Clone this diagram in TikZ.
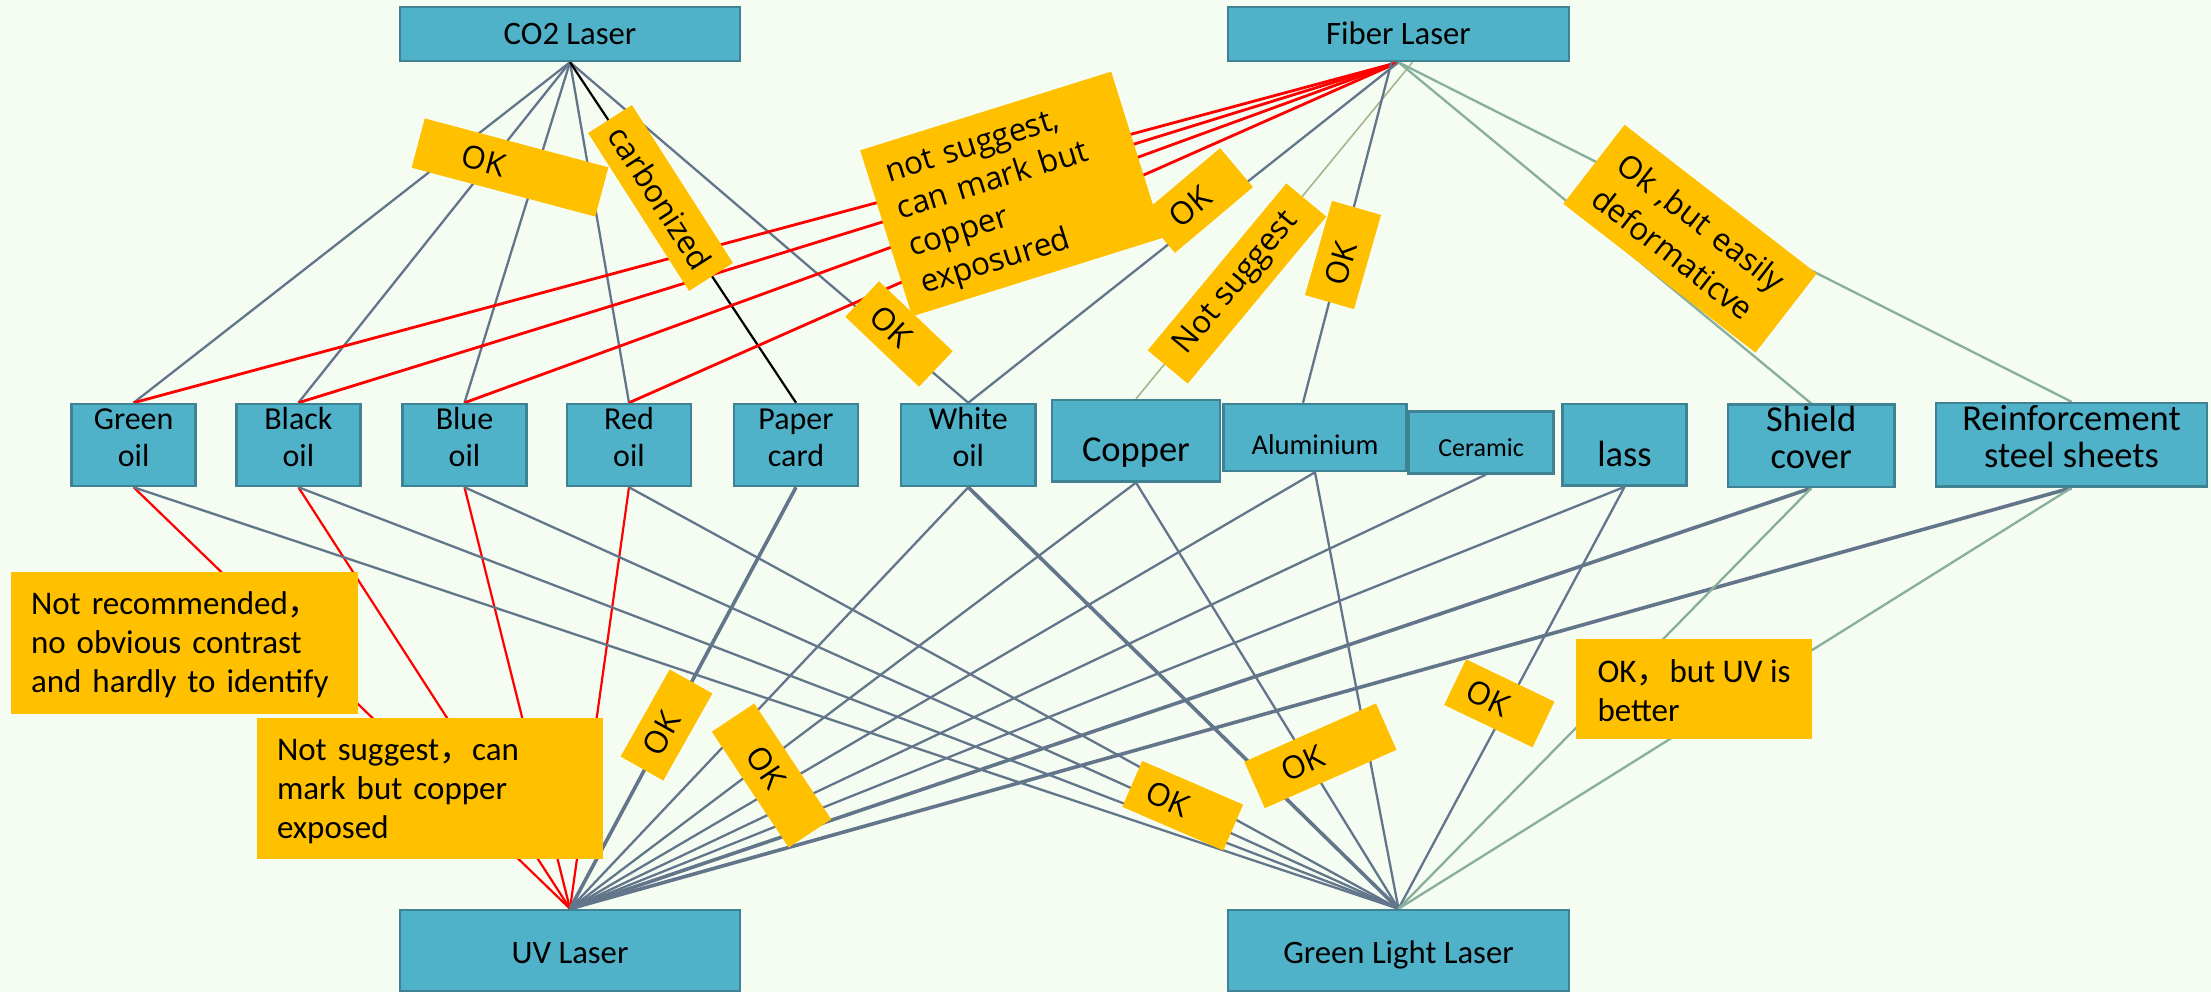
\documentclass[tikz,border=0pt]{standalone}
\usepackage{fontspec}
\setmainfont{Carlito}
\newfontfamily\rotfont{Open Sans}
\newfontfamily\cjkfont{Noto Sans CJK SC}
\newcommand{\fwc}{{\cjkfont ，}}
\pgfdeclarelayer{bottomlayer}
\pgfdeclarelayer{lineslayer}
\pgfsetlayers{bottomlayer,lineslayer,main}
\definecolor{bgcol}{HTML}{F5FCF2}
\definecolor{boxfill}{HTML}{4FB2C8}
\definecolor{boxline}{HTML}{3E8294}
\definecolor{noteor}{HTML}{FFC000}
\definecolor{grayline}{HTML}{63758A}
\definecolor{redline}{HTML}{FF0000}
\definecolor{greenline}{HTML}{88AE9C}
\definecolor{oliveline}{HTML}{A6B68A}
\begin{document}
\begin{tikzpicture}[x=1pt,y=-1pt,
  cbox/.style={draw=boxline, line width=2.5pt, fill=boxfill, inner sep=0pt, align=center},
  midbox/.style={cbox, minimum height=82pt, font=\fontsize{32}{37}\selectfont, text height=62pt, text depth=19.4pt},
  ornote/.style={fill=noteor, inner sep=0pt},
  rnote/.style={ornote, font=\rotfont\fontsize{31.5}{39}\selectfont},
  hnote/.style={ornote, font=\fontsize{33}{39}\selectfont, align=left},
  gl/.style={draw=grayline, line width=2.3pt},
  glt/.style={draw=grayline, line width=3.6pt},
  rl/.style={draw=redline, line width=2.8pt},
  rlt/.style={draw=redline, line width=2.2pt},
  grl/.style={draw=greenline, line width=2.3pt},
  oll/.style={draw=oliveline, line width=1.6pt},
  bkl/.style={draw=black, line width=2.2pt}]
\begin{pgfonlayer}{bottomlayer}
\fill[bgcol] (0,0) rectangle (2211,992);
\end{pgfonlayer}
\useasboundingbox (0,0) rectangle (2211,992);

% lasers
\node[cbox, minimum width=340pt, minimum height=54pt, font=\fontsize{32.7}{37}\selectfont, text height=28pt, text depth=6pt] (co2) at (570,34) {CO2 Laser};
\node[cbox, minimum width=341pt, minimum height=54pt, font=\fontsize{32.7}{37}\selectfont, text height=28pt, text depth=6pt] (fiber) at (1398.5,34) {Fiber Laser};
\node[cbox, minimum width=340pt, minimum height=81pt, font=\fontsize{32.7}{37}\selectfont, text height=32pt, text depth=6pt] (uv) at (570,950.5) {UV Laser};
\node[cbox, minimum width=341pt, minimum height=81pt, font=\fontsize{32.7}{37}\selectfont, text height=32pt, text depth=6pt] (gll) at (1398.5,950.5) {Green Light Laser};

% materials
\node[midbox, minimum width=124pt] (green) at (133.6,445) {Green\\oil};
\node[midbox, minimum width=124pt] (black) at (298.4,445) {Black\\oil};
\node[midbox, minimum width=124pt] (blue) at (464.5,445) {Blue\\oil};
\node[midbox, minimum width=124pt] (red) at (629,445) {Red\\oil};
\node[midbox, minimum width=124pt] (paper) at (796,445) {Paper\\card};
\node[midbox, minimum width=134.7pt] (white) at (968.3,445) {White\\oil};
\node[cbox, minimum width=168pt, minimum height=81.3pt, font=\fontsize{36.5}{37}\selectfont, text height=50pt, text depth=8pt] (copper) at (1136,440.7) {Copper};
\node[cbox, minimum width=183pt, minimum height=67pt, font=\fontsize{28.6}{34}\selectfont, text height=40pt, text depth=7pt] (alum) at (1315,437.5) {Aluminium};
\node[cbox, minimum width=145pt, minimum height=61.6pt, font=\fontsize{26}{31}\selectfont, text height=36pt, text depth=7.6pt] (ceramic) at (1481,442.5) {Ceramic};
\node[cbox, minimum width=124.3pt, minimum height=81.7pt, font=\fontsize{36.5}{37}\selectfont, text height=50pt, text depth=6.2pt] (lass) at (1624.5,444.8) {lass};
\node[cbox, minimum width=166.4pt, minimum height=81.7pt, font=\fontsize{36.5}{37}\selectfont, text height=64pt, text depth=18.2pt] (shield) at (1811.2,445.8) {Shield\\cover};
\node[cbox, minimum width=271pt, minimum height=81.7pt, font=\fontsize{36.5}{37}\selectfont, text height=64pt, text depth=19.6pt] (reinf) at (2071.5,444.8) {Reinforcement\\steel sheets};

% connectors
\begin{pgfonlayer}{lineslayer}
\foreach \nm in {green,black,blue,red,white} \draw[gl] (co2.south) -- (\nm.north);
\draw[bkl] (co2.south) -- (paper.north);
\foreach \nm in {green,black,blue,red} \draw[rl] (fiber.south) -- (\nm.north);
\draw[gl] (fiber.south) -- (white.north);
\draw[oll] ([xshift=14pt]fiber.south) -- (copper.north);
\draw[gl] ([xshift=-7pt]fiber.south) -- ([xshift=-12pt]alum.north);
\draw[grl] (fiber.south) -- (shield.north);
\draw[grl] (fiber.south) -- (reinf.north);
\foreach \nm in {green,black,blue,red} \draw[rlt] (uv.north) -- (\nm.south);
\draw[glt] (uv.north) -- (paper.south);
\foreach \nm in {white,copper,alum,lass} \draw[gl] (uv.north) -- (\nm.south);
\draw[gl] (uv.north) -- ([xshift=5pt]ceramic.south);
\draw[glt] (uv.north) -- (shield.south);
\draw[glt] (uv.north) -- (reinf.south);
\foreach \nm in {green,black,blue,red,copper,alum,lass} \draw[gl] (gll.north) -- (\nm.south);
\draw[glt] (gll.north) -- (white.south);
\draw[grl] (gll.north) -- (shield.south);
\draw[grl] (gll.north) -- (reinf.south);
\end{pgfonlayer}

% rotated notes
\node[rnote, rotate=-14.9, minimum width=190pt, minimum height=51pt] (ok1) at (510,167.5) {OK\hspace*{54pt}};
\node[rnote, rotate=-57.4, minimum width=187.5pt, minimum height=52pt] (carb) at (660.5,198) {carbonized};
\node[rnote, rotate=17.4, minimum width=263pt, minimum height=174pt, text width=227pt, align=left, text height=25pt, text depth=121pt] (bignote) at (1011.7,194) {not suggest,\\can mark but\\copper\\exposured};
\node[rnote, rotate=-43.5, minimum width=101.6pt, minimum height=49pt] (ok2) at (899,334) {OK\hspace*{22pt}};
\node[rnote, rotate=40.1, minimum width=102pt, minimum height=51pt] (ok3) at (1197.5,200.5) {OK\hspace*{20pt}};
\node[rnote, rotate=50.3, minimum width=217pt, minimum height=52pt] (nsug1) at (1237,283.5) {Not suggest};
\node[rnote, rotate=74, minimum width=98pt, minimum height=51pt] (ok4) at (1343,255) {OK\hspace*{18pt}};
\node[rnote, rotate=-37.75, minimum width=243pt, minimum height=100pt, text width=203pt, align=left, text height=25pt, text depth=42pt, font=\rotfont\fontsize{31.5}{42}\selectfont] (deform) at (1690,238.7) {Ok ,but easily\\deformaticve};
\node[rnote, rotate=60.6, minimum width=100pt, minimum height=49pt] (ok5) at (666.5,725) {OK\hspace*{20pt}};
\node[rnote, rotate=-56.4, minimum width=139pt, minimum height=51pt] (ok6) at (771.5,775.5) {OK\hspace*{20pt}};
\node[rnote, rotate=-23.4, minimum width=110pt, minimum height=50pt] (ok7) at (1182.7,805.7) {OK\hspace*{32pt}};
\node[rnote, rotate=23.9, minimum width=144pt, minimum height=50.7pt] (ok8) at (1320.4,755.8) {OK\hspace*{38pt}};
\node[rnote, rotate=-25.6, minimum width=98pt, minimum height=50.6pt] (ok9) at (1499.3,703.3) {OK\hspace*{24pt}};

% straight notes
\node[hnote, minimum width=347pt, minimum height=142pt, text width=307pt, text height=25pt, text depth=82.6pt] (nrec) at (184.5,643) {Not recommended\fwc\\no obvious contrast\\and hardly to identify};
\node[hnote, minimum width=346pt, minimum height=141pt, text width=306pt, text height=25pt, text depth=80.8pt] (nsug2) at (430,788.5) {Not suggest\fwc can\\mark but copper\\exposed};
\node[hnote, minimum width=236pt, minimum height=100.5pt, text height=64pt, text depth=0.4pt] (okuv) at (1694,689.2) {OK\fwc but UV is\\better};
\end{tikzpicture}
\end{document}
